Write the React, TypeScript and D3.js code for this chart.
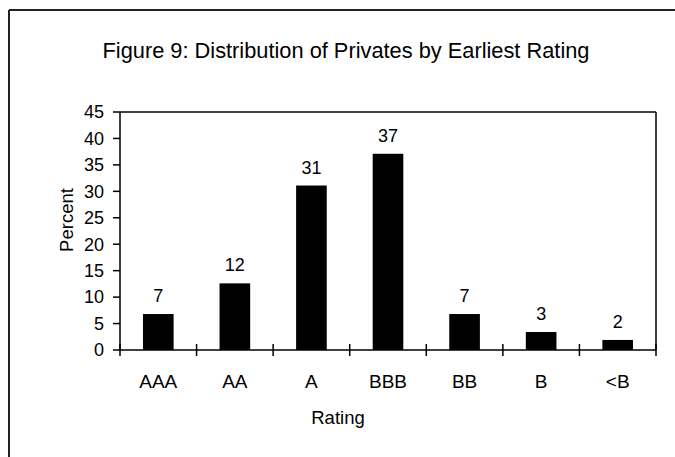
import React from "react";
import * as d3 from "d3";

const categories = ["AAA", "AA", "A", "BBB", "BB", "B", "<B"];
const percentValues = [6.8, 12.6, 31.1, 37.1, 6.8, 3.4, 1.9];
const valueLabels = ["7", "12", "31", "37", "7", "3", "2"];
const yTicks = [0, 5, 10, 15, 20, 25, 30, 35, 40, 45];

const W = 675;
const H = 457;
const plot = { left: 120, right: 656, top: 112, bottom: 350 };
const FONT = "Arial, 'Liberation Sans', sans-serif";

export default function App() {
  const x = d3
    .scaleBand<string>()
    .domain(categories)
    .range([plot.left, plot.right])
    .paddingInner(0.6)
    .paddingOuter(0.3);
  const step = (plot.right - plot.left) / categories.length;
  const y = d3.scaleLinear().domain([0, 45]).range([plot.bottom, plot.top]);

  const boundaries = d3.range(categories.length + 1).map((i) => plot.left + i * step);

  return (
    <svg
      width={W}
      height={H}
      style={{ position: "absolute", left: 0, top: 0, display: "block" }}
      fontFamily={FONT}
    >
      <rect x={0} y={0} width={W} height={H} fill="#fff" />
      {/* outer frame */}
      <line x1={9} y1={10} x2={W} y2={10} stroke="#222" strokeWidth={2} />
      <line x1={9} y1={10} x2={9} y2={H} stroke="#222" strokeWidth={2} />

      <text x={346} y={58} fontSize={21.8} textAnchor="middle" fill="#000">
        Figure 9: Distribution of Privates by Earliest Rating
      </text>

      {/* plot area border top/right */}
      <line x1={plot.left} y1={plot.top} x2={plot.right} y2={plot.top} stroke="#000" strokeWidth={1.5} />
      <line x1={plot.right} y1={plot.top} x2={plot.right} y2={plot.bottom} stroke="#000" strokeWidth={1.5} />

      {/* bars */}
      {categories.map((c, i) => (
        <rect
          key={c}
          x={x(c)}
          y={y(percentValues[i])}
          width={x.bandwidth()}
          height={y(0) - y(percentValues[i])}
          fill="#000"
        />
      ))}

      {/* data labels */}
      {categories.map((c, i) => (
        <text
          key={"l" + c}
          x={(x(c) as number) + x.bandwidth() / 2}
          y={y(percentValues[i]) - 12}
          fontSize={18}
          textAnchor="middle"
          fill="#000"
        >
          {valueLabels[i]}
        </text>
      ))}

      {/* y axis */}
      <line x1={plot.left} y1={plot.top} x2={plot.left} y2={plot.bottom} stroke="#000" strokeWidth={1.5} />
      {yTicks.map((t) => (
        <g key={"yt" + t}>
          <line x1={plot.left - 7} y1={y(t)} x2={plot.left} y2={y(t)} stroke="#000" strokeWidth={1.5} />
          <text x={104} y={y(t)} dy="0.35em" fontSize={18} textAnchor="end" fill="#000">
            {t}
          </text>
        </g>
      ))}

      {/* x axis */}
      <line x1={plot.left} y1={plot.bottom} x2={plot.right} y2={plot.bottom} stroke="#000" strokeWidth={1.5} />
      {boundaries.map((bx, i) => (
        <line key={"xt" + i} x1={bx} y1={plot.bottom - 6} x2={bx} y2={plot.bottom + 6} stroke="#000" strokeWidth={1.5} />
      ))}
      {categories.map((c) => (
        <text
          key={"c" + c}
          x={(x(c) as number) + x.bandwidth() / 2}
          y={388}
          fontSize={19}
          textAnchor="middle"
          fill="#000"
        >
          {c}
        </text>
      ))}

      <text x={338} y={424} fontSize={18.5} textAnchor="middle" fill="#000">
        Rating
      </text>
      <text
        transform={`translate(73, 220) rotate(-90)`}
        x={0}
        y={0}
        fontSize={18.5}
        textAnchor="middle"
        fill="#000"
      >
        Percent
      </text>
    </svg>
  );
}
